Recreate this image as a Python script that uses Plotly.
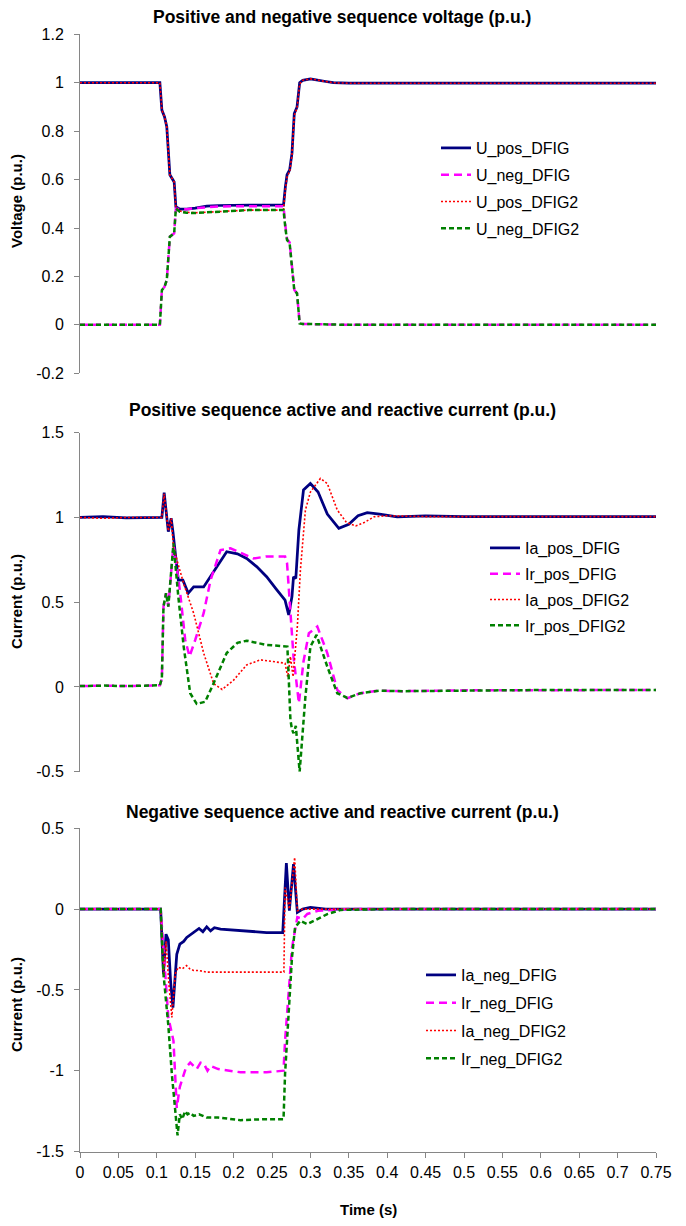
import plotly.graph_objects as go

# ---------------- DATA ----------------
# Chart 1: positive / negative sequence voltage (p.u.)
t_volt = [0, 0.104, 0.1066, 0.110, 0.113, 0.117, 0.1226, 0.1248, 0.13, 0.139, 0.15, 0.165, 0.18, 0.2, 0.22,
          0.24, 0.265, 0.2674, 0.2696, 0.273, 0.276, 0.279, 0.2826, 0.286, 0.29, 0.3, 0.31, 0.32, 0.33, 0.35,
          0.4, 0.5, 0.6, 0.75]
u_pos_dfig = [1.0, 1.0, 0.887, 0.86, 0.818, 0.62, 0.59, 0.488, 0.478, 0.478, 0.482, 0.49, 0.493, 0.495, 0.495,
              0.495, 0.495, 0.57, 0.62, 0.64, 0.708, 0.873, 0.90, 1.0, 1.01, 1.016, 1.012, 1.005, 1.0, 0.998,
              0.998, 0.998, 0.998, 0.998]
u_neg_dfig = [0, 0, 0.143, 0.157, 0.185, 0.364, 0.378, 0.48, 0.478, 0.478, 0.482, 0.487, 0.489, 0.49, 0.49,
              0.49, 0.49, 0.41, 0.355, 0.34, 0.25, 0.145, 0.13, 0.006, 0.004, 0.003, 0.002, 0.001, 0, 0,
              0, 0, 0, 0]
u_pos_dfig2 = [1.0, 1.0, 0.887, 0.86, 0.818, 0.62, 0.59, 0.485, 0.47, 0.465, 0.463, 0.465, 0.468, 0.472, 0.474,
               0.474, 0.474, 0.56, 0.61, 0.635, 0.70, 0.865, 0.895, 0.995, 1.01, 1.016, 1.012, 1.005, 1.0, 0.998,
               0.998, 0.998, 0.998, 0.998]
u_neg_dfig2 = [0, 0, 0.143, 0.157, 0.185, 0.364, 0.378, 0.48, 0.467, 0.463, 0.462, 0.465, 0.468, 0.472, 0.474,
               0.474, 0.474, 0.40, 0.35, 0.336, 0.245, 0.143, 0.13, 0.006, 0.004, 0.003, 0.002, 0.001, 0, 0,
               0, 0, 0, 0]

# Chart 2: positive sequence active and reactive current (p.u.)
t_ia_pos_dfig = [0, 0.03, 0.06, 0.1066, 0.1096, 0.115, 0.1187, 0.121, 0.128, 0.134, 0.141, 0.148, 0.161, 0.174,
                 0.191, 0.205, 0.217, 0.23, 0.243, 0.255, 0.267, 0.2717, 0.276, 0.278, 0.281, 0.285, 0.291, 0.3,
                 0.31, 0.322, 0.337, 0.35, 0.362, 0.374, 0.39, 0.413, 0.45, 0.5, 0.6, 0.75]
ia_pos_dfig = [1.0, 1.005, 0.998, 1.0, 1.146, 0.916, 0.995, 0.916, 0.63, 0.63, 0.553, 0.59, 0.59, 0.68,
               0.798, 0.785, 0.758, 0.71, 0.65, 0.58, 0.512, 0.425, 0.533, 0.65, 0.64, 0.926, 1.162, 1.2,
               1.15, 1.02, 0.936, 0.96, 1.01, 1.028, 1.02, 1.004, 1.01, 1.005, 1.005, 1.005]
t_ir_pos_dfig = [0, 0.03, 0.06, 0.104, 0.1066, 0.1087, 0.112, 0.115, 0.1217, 0.13, 0.137, 0.1426, 0.15, 0.161,
                 0.17, 0.183, 0.196, 0.21, 0.226, 0.243, 0.267, 0.2696, 0.274, 0.278, 0.285, 0.291, 0.298, 0.309,
                 0.322, 0.335, 0.348, 0.365, 0.387, 0.418, 0.5, 0.6, 0.75]
ir_pos_dfig = [0.005, 0.008, 0.005, 0.01, 0.05, 0.474, 0.553, 0.474, 0.84, 0.572, 0.277, 0.18, 0.277, 0.435,
               0.63, 0.808, 0.818, 0.79, 0.758, 0.77, 0.77, 0.73, 0.435, 0.18, -0.096, 0.15, 0.317, 0.356,
               0.2, -0.018, -0.067, -0.037, -0.022, -0.025, -0.02, -0.018, -0.018]
t_ia_pos_dfig2 = [0, 0.03, 0.06, 0.1066, 0.1096, 0.115, 0.1187, 0.1217, 0.128, 0.135, 0.148, 0.161, 0.174, 0.185,
                  0.2, 0.217, 0.235, 0.252, 0.267, 0.2705, 0.274, 0.2774, 0.283, 0.287, 0.2935, 0.3, 0.313, 0.322,
                  0.335, 0.347, 0.359, 0.37, 0.383, 0.4, 0.45, 0.5, 0.6, 0.75]
ia_pos_dfig2 = [1.0, 0.995, 1.0, 1.0, 1.14, 0.92, 0.995, 0.827, 0.72, 0.61, 0.435, 0.2, 0.02, -0.015,
                0.04, 0.13, 0.16, 0.15, 0.14, 0.06, 0.18, 0.06, 0.356, 0.69, 1.044, 1.15, 1.23, 1.2,
                1.044, 0.97, 0.95, 0.97, 1.004, 1.01, 1.005, 1.005, 1.005, 1.005]
t_ir_pos_dfig2 = [0, 0.03, 0.06, 0.104, 0.1066, 0.1087, 0.112, 0.115, 0.1217, 0.128, 0.135, 0.1435, 0.152, 0.163,
                  0.174, 0.191, 0.205, 0.217, 0.243, 0.27, 0.2717, 0.274, 0.276, 0.278, 0.281, 0.286, 0.2935, 0.3,
                  0.308, 0.322, 0.335, 0.348, 0.365, 0.39, 0.42, 0.5, 0.6, 0.75]
ir_pos_dfig2 = [0.005, 0.008, 0.005, 0.01, 0.05, 0.474, 0.553, 0.474, 0.847, 0.533, 0.238, -0.037, -0.1, -0.087,
                0.022, 0.2, 0.26, 0.273, 0.248, 0.238, 0.06, -0.195, -0.25, -0.273, -0.23, -0.5, -0.057, 0.238,
                0.307, 0.12, -0.037, -0.065, -0.037, -0.022, -0.025, -0.02, -0.018, -0.018]

# Chart 3: negative sequence active and reactive current (p.u.)
t_ia_neg_dfig = [0, 0.05, 0.105, 0.1087, 0.112, 0.115, 0.118, 0.121, 0.126, 0.13, 0.135, 0.139, 0.143, 0.148,
                 0.155, 0.16, 0.165, 0.17, 0.175, 0.183, 0.209, 0.243, 0.264, 0.2687, 0.2726, 0.278, 0.283, 0.29,
                 0.3, 0.32, 0.35, 0.5, 0.75]
ia_neg_dfig = [0, 0, 0, -0.40, -0.155, -0.19, -0.45, -0.61, -0.28, -0.217, -0.2, -0.175, -0.16, -0.145,
               -0.12, -0.14, -0.11, -0.135, -0.115, -0.124, -0.134, -0.145, -0.145, 0.285, -0.01, 0.278, -0.02, 0.0,
               0.01, 0.0, 0.0, 0.0, 0.0]
t_ir_neg_dfig = [0, 0.05, 0.105, 0.108, 0.112, 0.115, 0.1217, 0.126, 0.13, 0.1326, 0.138, 0.1435, 0.148, 0.152,
                 0.157, 0.161, 0.166, 0.17, 0.18, 0.209, 0.243, 0.265, 0.267, 0.2717, 0.276, 0.283, 0.29, 0.296,
                 0.31, 0.35, 0.5, 0.75]
ir_neg_dfig = [0, 0, 0, -0.2, -0.5, -0.67, -0.815, -1.23, -1.1, -1.06, -0.98, -0.95, -0.97, -0.99,
               -0.95, -0.955, -1.0, -0.97, -0.99, -1.01, -1.01, -1.0, -0.815, -0.505, -0.24, -0.05, -0.06, -0.03,
               -0.01, 0.0, 0.0, 0.0]
t_ia_neg_dfig2 = [0, 0.05, 0.105, 0.1087, 0.112, 0.1155, 0.1196, 0.124, 0.128, 0.133, 0.1387, 0.143, 0.148, 0.155,
                  0.165, 0.2, 0.24, 0.2655, 0.267, 0.2726, 0.2795, 0.283, 0.29, 0.3, 0.35, 0.5, 0.75]
ia_neg_dfig2 = [0, 0, 0, -0.42, -0.2, -0.45, -0.67, -0.40, -0.36, -0.37, -0.35, -0.37, -0.38, -0.38,
                -0.39, -0.39, -0.39, -0.39, 0.134, 0.0, 0.32, -0.01, 0.0, 0.0, 0.0, 0.0, 0.0]
t_ir_neg_dfig2 = [0, 0.05, 0.105, 0.1087, 0.115, 0.1196, 0.124, 0.127, 0.13, 0.133, 0.137, 0.14, 0.1435, 0.148,
                  0.155, 0.165, 0.18, 0.209, 0.24, 0.265, 0.267, 0.2717, 0.276, 0.28, 0.287, 0.296, 0.31, 0.322,
                  0.34, 0.4, 0.5, 0.75]
ir_neg_dfig2 = [0, 0, 0, -0.4, -0.72, -1.02, -1.27, -1.40, -1.27, -1.30, -1.25, -1.27, -1.26, -1.28,
                -1.27, -1.29, -1.29, -1.306, -1.30, -1.30, -1.02, -0.61, -0.30, -0.114, -0.072, -0.093, -0.06, -0.031,
                -0.005, 0.0, 0.0, 0.0]

# Tick labels
x_tickvals = [0, 0.05, 0.1, 0.15, 0.2, 0.25, 0.3, 0.35, 0.4, 0.45, 0.5, 0.55, 0.6, 0.65, 0.7, 0.75]
x_ticktext = ["0", "0.05", "0.1", "0.15", "0.2", "0.25", "0.3", "0.35", "0.4", "0.45", "0.5", "0.55",
              "0.6", "0.65", "0.7", "0.75"]
y1_tickvals = [-0.2, 0, 0.2, 0.4, 0.6, 0.8, 1.0, 1.2]
y1_ticktext = ["-0.2", "0", "0.2", "0.4", "0.6", "0.8", "1", "1.2"]
y2_tickvals = [-0.5, 0, 0.5, 1.0, 1.5]
y2_ticktext = ["-0.5", "0", "0.5", "1", "1.5"]
y3_tickvals = [-1.5, -1.0, -0.5, 0, 0.5]
y3_ticktext = ["-1.5", "-1", "-0.5", "0", "0.5"]

titles = ["Positive and negative sequence voltage (p.u.)",
          "Positive sequence active and reactive current (p.u.)",
          "Negative sequence active and reactive current (p.u.)"]

# ---------------- STYLE ----------------
W, H = 686, 1226
FONT = "Liberation Sans, Arial, sans-serif"
NAVY, MAGENTA, RED, GREEN = "#000080", "#FF00FF", "#FF0000", "#008000"
AX = "#868686"

s_navy = dict(color=NAVY, width=2.75)
s_mag = dict(color=MAGENTA, width=2.5, dash="8px,5px")
s_red = dict(color=RED, width=1.6, dash="2px,2px")
s_green = dict(color=GREEN, width=2.5, dash="5px,3px")


def px_x(p):
    return p / W


def px_y(p):
    return 1 - p / H


fig = go.Figure()


def add(x, y, name, line, ax, leg):
    fig.add_trace(go.Scatter(x=x, y=y, name=name, mode="lines", line=line,
                             xaxis="x" + ax, yaxis="y" + ax, legend=leg, legendgroup=name))


add(t_volt, u_pos_dfig, "U_pos_DFIG", s_navy, "", "legend")
add(t_volt, u_neg_dfig, "U_neg_DFIG", s_mag, "", "legend")
add(t_volt, u_pos_dfig2, "U_pos_DFIG2", s_red, "", "legend")
add(t_volt, u_neg_dfig2, "U_neg_DFIG2", s_green, "", "legend")

add(t_ia_pos_dfig, ia_pos_dfig, "Ia_pos_DFIG", s_navy, "2", "legend2")
add(t_ir_pos_dfig, ir_pos_dfig, "Ir_pos_DFIG", s_mag, "2", "legend2")
add(t_ia_pos_dfig2, ia_pos_dfig2, "Ia_pos_DFIG2", s_red, "2", "legend2")
add(t_ir_pos_dfig2, ir_pos_dfig2, "Ir_pos_DFIG2", s_green, "2", "legend2")

add(t_ia_neg_dfig, ia_neg_dfig, "Ia_neg_DFIG", s_navy, "3", "legend3")
add(t_ir_neg_dfig, ir_neg_dfig, "Ir_neg_DFIG", s_mag, "3", "legend3")
add(t_ia_neg_dfig2, ia_neg_dfig2, "Ia_neg_DFIG2", s_red, "3", "legend3")
add(t_ir_neg_dfig2, ir_neg_dfig2, "Ir_neg_DFIG2", s_green, "3", "legend3")

xdom = [px_x(80), px_x(656)]
ydoms = [[px_y(373.3), px_y(34.3)], [px_y(771.7), px_y(432.7)], [px_y(1151.5), px_y(828.3)]]
yranges = [[-0.2, 1.2], [-0.5, 1.5], [-1.5, 0.5]]
yticks = [(y1_tickvals, y1_ticktext), (y2_tickvals, y2_ticktext), (y3_tickvals, y3_ticktext)]

TICKFONT = dict(size=16, family=FONT, color="#000000")

layout = dict(
    width=W, height=H, margin=dict(l=0, r=0, t=0, b=0, autoexpand=False),
    paper_bgcolor="white", plot_bgcolor="white",
    font=dict(family=FONT, size=16, color="#000000"),
)
for i in range(3):
    suf = "" if i == 0 else str(i + 1)
    last = i == 2
    layout["xaxis" + suf] = dict(
        domain=xdom, range=[0, 0.75], anchor="y" + suf, showgrid=False, zeroline=False,
        showline=last, linecolor=AX, linewidth=1, ticks="outside" if last else "", ticklen=5,
        tickcolor=AX, tickvals=x_tickvals, ticktext=x_ticktext, showticklabels=last,
        tickfont=TICKFONT, ticklabelstandoff=1, fixedrange=True, automargin=False,
    )
    layout["yaxis" + suf] = dict(
        domain=ydoms[i], range=yranges[i], anchor="x" + suf, showgrid=False, zeroline=False,
        showline=True, linecolor=AX, linewidth=1, ticks="outside", ticklen=5, tickcolor=AX,
        tickvals=yticks[i][0], ticktext=yticks[i][1], ticklabelstandoff=7,
        tickfont=TICKFONT, fixedrange=True, automargin=False,
    )

leg_common = dict(font=dict(size=16, family=FONT, color="#000000"), bgcolor="rgba(0,0,0,0)",
                  borderwidth=0, traceorder="grouped", xanchor="left", yanchor="top",
                  itemclick=False)
layout["legend"] = dict(leg_common, x=px_x(436), y=px_y(131), tracegroupgap=3)
layout["legend2"] = dict(leg_common, x=px_x(485), y=px_y(531), tracegroupgap=2)
layout["legend3"] = dict(leg_common, x=px_x(421), y=px_y(958), tracegroupgap=4)

ann = []
for ttl, py in zip(titles, [17, 410, 812]):
    ann.append(dict(text="<b>" + ttl + "</b>", x=px_x(342), y=px_y(py), xref="paper", yref="paper",
                    showarrow=False, xanchor="center", yanchor="middle",
                    font=dict(size=17.5, family=FONT, color="#000000")))
for ttl, py in zip(["Voltage (p.u.)", "Current (p.u.)", "Current (p.u.)"], [201, 602, 1005]):
    ann.append(dict(text="<b>" + ttl + "</b>", x=px_x(16), y=px_y(py), xref="paper", yref="paper",
                    showarrow=False, xanchor="center", yanchor="middle", textangle=-90,
                    font=dict(size=15, family=FONT, color="#000000")))
ann.append(dict(text="<b>Time (s)</b>", x=px_x(368), y=px_y(1209), xref="paper", yref="paper",
                showarrow=False, xanchor="center", yanchor="middle",
                font=dict(size=15, family=FONT, color="#000000")))
layout["annotations"] = ann

fig.update_layout(**layout)
fig.write_html("out.html", config={"displayModeBar": False, "responsive": False},
               post_script="document.body.style.margin='0px';document.body.style.padding='0px';")
